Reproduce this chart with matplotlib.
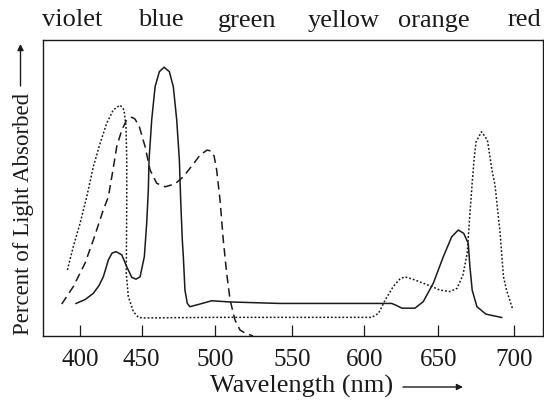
import numpy as np
import matplotlib
matplotlib.use("Agg")
import matplotlib.pyplot as plt

plt.rcParams['font.family'] = ['Liberation Serif', 'DejaVu Serif']

# absorption spectra (wavelength nm, % of axis height)
solid_wl = [396.9, 404.2, 410.9, 415.6, 419.0, 421.2, 423.1, 426.1, 429.3, 434.0,
            438.0, 442.1, 445.5, 448.8, 451.9, 453.5, 454.6, 455.1, 456.9, 459.2,
            462.1, 465.3, 468.9, 471.6, 473.9, 475.7, 476.6, 477.7, 478.4, 479.5,
            481.1, 482.9, 489.7, 497.7, 509.7, 542.1, 580.0, 616.5, 618.5, 621.0,
            625.5, 634.3, 639.9, 646.7, 653.4, 658.9, 663.2, 666.8, 669.8, 670.9,
            672.4, 675.5, 681.4, 691.8]
solid_val = [11.0, 12.3, 14.4, 17.1, 20.0, 23.0, 25.7, 28.0, 28.5, 27.4,
             23.4, 19.8, 19.2, 20.0, 26.8, 38.1, 49.3, 59.5, 73.0, 84.2,
             89.3, 90.8, 89.3, 84.2, 73.0, 59.5, 45.9, 32.4, 26.8, 15.5,
             11.0, 9.9, 10.8, 11.9, 11.5, 11.0, 11.0, 11.0, 11.0, 10.5,
             9.4, 9.4, 11.6, 17.8, 26.8, 33.5, 35.8, 34.7, 31.3, 23.4,
             15.5, 9.9, 7.4, 6.25]

dotted_wl = [389.9, 394.7, 400.2, 405.6, 410.9, 416.4, 421.8, 427.1, 432.6, 435.8,
             437.4, 438.0, 438.0, 437.8, 437.6, 439.3, 443.4, 447.4, 451.2, 500.0,
             560.0, 605.2, 609.7, 614.2, 619.6, 624.2, 627.5, 634.5, 639.9, 645.8,
             651.2, 657.8, 662.4, 666.3, 669.1, 670.6, 672.2, 673.6, 674.9, 678.5,
             682.4, 685.4, 687.4, 690.7, 693.0, 695.0, 699.0]
dotted_val = [22.3, 30.2, 38.1, 47.1, 57.2, 65.1, 71.9, 76.4, 78.0, 76.4,
              70.7, 59.5, 45.9, 32.4, 21.3, 13.3, 8.2, 6.3, 6.1, 6.3,
              6.3, 6.3, 7.7, 12.2, 16.7, 19.3, 20.0, 18.9, 17.8, 16.7,
              15.5, 15.0, 16.1, 20.6, 27.9, 39.2, 50.4, 59.5, 65.5, 69.0,
              66.2, 56.1, 51.0, 35.1, 20.0, 15.5, 9.1]

dashed_wl = [385.3, 394.7, 404.2, 410.9, 419.0, 423.1, 425.9, 429.9, 434.0, 438.0,
             442.1, 444.7, 448.2, 452.4, 455.8, 460.3, 466.0, 472.8, 478.4, 485.5,
             489.7, 494.5, 497.2, 499.3, 501.0, 503.2, 505.3, 507.5, 509.7, 512.9,
             516.2, 519.4, 524.6]
dashed_val = [10.8, 16.7, 24.6, 32.4, 42.6, 47.0, 53.8, 64.0, 69.6, 73.0,
              73.9, 73.3, 70.7, 64.0, 56.1, 51.6, 50.4, 51.4, 53.8, 58.3,
              61.1, 62.8, 62.5, 60.8, 56.1, 45.9, 32.4, 21.2, 12.2, 5.4,
              2.0, 1.0, 0.0]

tick_wl = [400, 450, 500, 550, 600, 650, 700]
colour_names = ['violet', 'blue', 'green', 'yellow', 'orange', 'red']

# the printed axis is not evenly spaced: pixel position of each tick
axis_wl = [360] + tick_wl + [730]
axis_px = [30.4, 79.8, 141.5, 215.1, 292.1, 364.3, 438.2, 514.2, 559.8]


def fwd(x):
    return np.interp(x, axis_wl, axis_px)


def inv(x):
    return np.interp(x, axis_px, axis_wl)


ink = '#1a1a1a'
W, H = 544, 407
fig = plt.figure(figsize=(W / 100, H / 100), dpi=100)
ax = fig.add_axes([42.7 / W, 1 - 336 / H, 500 / W, 296 / H])
ax.set_xscale('function', functions=(fwd, inv))

ax.plot(solid_wl, solid_val, color=ink, lw=1.1)
ax.plot(dotted_wl, dotted_val, color=ink, lw=1.1, dashes=(1.2, 1.3))
ax.plot(dashed_wl, dashed_val, color=ink, lw=1.1, dashes=(5.5, 3.3))

ax.set_xlim(369.9, 718.8)
ax.set_ylim(0, 100)
ax.set_xticks(tick_wl)
ax.set_xticklabels([str(t) for t in tick_wl])
ax.xaxis.set_minor_locator(matplotlib.ticker.NullLocator())
ax.set_yticks([])
ax.tick_params(axis='x', direction='in', length=7.7, width=0.9, pad=9.5,
               labelsize=18, colors=ink)
for s in ax.spines.values():
    s.set_linewidth(1.0)
    s.set_color(ink)

# colour names along the top
name_x = [72.5, 160.8, 247.5, 343.3, 434.2, 524.2]
for name, px in zip(colour_names, name_x):
    fig.text(px / W, 1 - 26.5 / H, name, ha='center', va='baseline',
             fontsize=19, color=ink)

# axis titles with arrows
fig.text(301.5 / W, 1 - 393 / H, 'Wavelength (nm)', ha='center', va='baseline',
         fontsize=19, color=ink)
fig.text(29 / W, 1 - 214 / H, 'Percent of Light Absorbed', rotation=90,
         ha='center', va='baseline', rotation_mode='anchor', fontsize=16.5,
         color=ink)

arrow = dict(arrowstyle='-|>', lw=1.0, color=ink, mutation_scale=9,
             shrinkA=0, shrinkB=0)
fig.add_artist(matplotlib.patches.FancyArrowPatch(
    (403 / W, 1 - 387 / H), (463 / W, 1 - 387 / H),
    transform=fig.transFigure, **arrow))
fig.add_artist(matplotlib.patches.FancyArrowPatch(
    (20.5 / W, 1 - 86 / H), (20.5 / W, 1 - 44 / H),
    transform=fig.transFigure, **arrow))

fig.savefig('out.png', dpi=100)
